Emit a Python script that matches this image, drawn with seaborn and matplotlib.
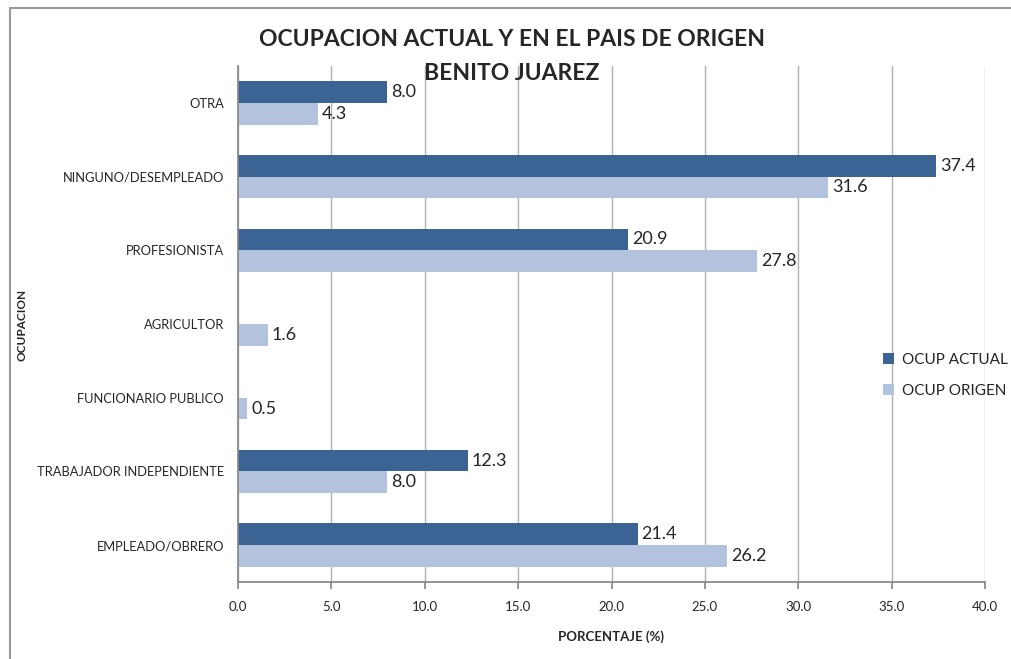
import matplotlib
matplotlib.use("Agg")
import matplotlib.pyplot as plt
import seaborn as sns
import pandas as pd
from matplotlib.patches import Rectangle

categories = ["OTRA", "NINGUNO/DESEMPLEADO", "PROFESIONISTA", "AGRICULTOR",
              "FUNCIONARIO PUBLICO", "TRABAJADOR INDEPENDIENTE", "EMPLEADO/OBRERO"]
ocup_actual = [8.0, 37.4, 20.9, 0.0, 0.0, 12.3, 21.4]
ocup_origen = [4.3, 31.6, 27.8, 1.6, 0.5, 8.0, 26.2]
series_names = ["OCUP ACTUAL", "OCUP ORIGEN"]
colors = ["#3B6495", "#B4C3DD"]
xticks = [0, 5, 10, 15, 20, 25, 30, 35, 40]

sns.set_theme(style="white")
plt.rcParams['font.family'] = ['Lato', 'DejaVu Sans']

df = pd.DataFrame({
    "cat": categories * 2,
    "val": ocup_actual + ocup_origen,
    "serie": [series_names[0]] * len(categories) + [series_names[1]] * len(categories),
})

fig = plt.figure(figsize=(10.11, 6.59), dpi=100)
ax = fig.add_axes([238/1011, 1 - 582/659, (985-238)/1011, (582-66)/659])

sns.barplot(data=df, y="cat", x="val", hue="serie", order=categories,
            hue_order=series_names, palette=colors, orient="h", width=0.59,
            saturation=1, ax=ax, legend=True, linewidth=0, edgecolor="none")

ax.set_xlim(0, 40)
ax.set_xticks(xticks)
ax.set_xticklabels([f"{t:.1f}" for t in xticks], fontsize=9.5)
ax.tick_params(axis="x", length=5, color="#888888", direction="out", pad=9, bottom=True)
ax.tick_params(axis="y", length=0, labelsize=9.3, pad=10)
ax.xaxis.grid(True, color="#b0b0b0", linewidth=1)
ax.set_axisbelow(True)
for s in ["top", "right"]:
    ax.spines[s].set_visible(False)
ax.spines["left"].set_color("#888888")
ax.spines["bottom"].set_color("#888888")

for cont in ax.containers:
    for bar in cont:
        w = bar.get_width()
        if w > 0:
            ax.text(w + 0.2, bar.get_y() + bar.get_height() / 2, f"{w:.1f}",
                    va="center", ha="left", fontsize=13)

ax.set_xlabel("PORCENTAJE (%)", fontsize=9.5, fontweight="bold", labelpad=12)
ax.set_ylabel("")
fig.text(22/1011, 1 - 325/659, "OCUPACION", rotation=90, fontsize=8.5,
         fontweight="bold", va="center", ha="center")

leg = ax.legend(loc="center left", bbox_to_anchor=(0.845, 0.40), frameon=False,
                fontsize=11, handlelength=0.75, handleheight=0.75, labelspacing=1.1,
                handletextpad=0.5)

fig.text(512/1011, 1 - 40/659, "OCUPACION ACTUAL Y EN EL PAIS DE ORIGEN",
         fontsize=16.5, fontweight="bold", ha="center", va="center")
fig.text(512/1011, 1 - 73/659, "BENITO JUAREZ",
         fontsize=16.5, fontweight="bold", ha="center", va="center")

fig.patches.append(Rectangle((10/1011, -0.1), 1.2, 1 - 8/659 + 0.1,
                             transform=fig.transFigure, fill=False,
                             edgecolor="#999999", linewidth=1.5, zorder=-1))

fig.savefig("out.png", dpi=100)
